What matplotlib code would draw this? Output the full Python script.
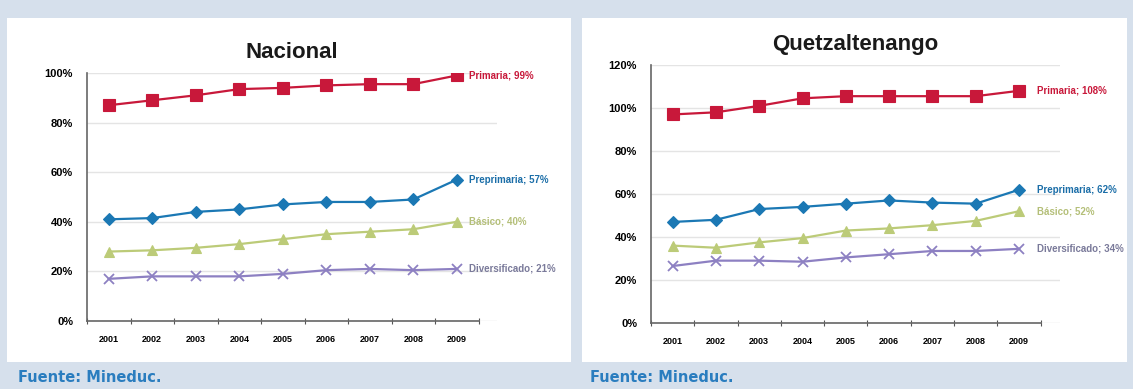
import matplotlib
matplotlib.use("Agg")
import matplotlib.pyplot as plt
from matplotlib.patches import Rectangle

years = ["2001", "2002", "2003", "2004", "2005", "2006", "2007", "2008", "2009"]

# Nacional
nac_primaria = [87, 89, 91, 93.5, 94, 95, 95.5, 95.5, 99]
nac_preprimaria = [41, 41.5, 44, 45, 47, 48, 48, 49, 57]
nac_basico = [28, 28.5, 29.5, 31, 33, 35, 36, 37, 40]
nac_diversificado = [17, 18, 18, 18, 19, 20.5, 21, 20.5, 21]
nac_labels = ["Primaria; 99%", "Preprimaria; 57%", "Básico; 40%", "Diversificado; 21%"]

# Quetzaltenango
que_primaria = [97, 98, 101, 104.5, 105.5, 105.5, 105.5, 105.5, 108]
que_preprimaria = [47, 48, 53, 54, 55.5, 57, 56, 55.5, 62]
que_basico = [36, 35, 37.5, 39.5, 43, 44, 45.5, 47.5, 52]
que_diversificado = [26.5, 29, 29, 28.5, 30.5, 32, 33.5, 33.5, 34.5]
que_labels = ["Primaria; 108%", "Preprimaria; 62%", "Básico; 52%", "Diversificado; 34%"]

plt.rcParams['font.family'] = ['Liberation Sans Narrow', 'Liberation Sans', 'DejaVu Sans']

line_colors = ["#c8183a", "#1b78b4", "#bccb78", "#8d80c2"]
text_colors = ["#c8183a", "#1b6ea8", "#b4bf78", "#7a7a9a"]
markers = ["s", "D", "^", "x"]
msizes = [8, 6, 6.5, 7]

fig = plt.figure(figsize=(11.33, 3.89), dpi=100)
fig.patch.set_facecolor("#d6e0ec")
W, H = 1133.0, 389.0

# white panels behind the charts
for x0, x1 in [(7, 571), (582, 1127)]:
    fig.patches.append(Rectangle((x0 / W, 1 - 362 / H), (x1 - x0) / W, (362 - 18) / H,
                                 transform=fig.transFigure, facecolor="white",
                                 edgecolor="none", zorder=-5))


def draw_panel(px, py, title, series, labels, ymax, lab_off):
    # px = (axis x, category width, gridline end), py = (y of 0, y of ymax) in pixels
    x0, cw, xg = px
    yb, yt = py
    ax = fig.add_axes([x0 / W, 1 - yb / H, (xg - x0) / W, (yb - yt) / H])
    ax.set_facecolor("white")
    x = list(range(len(years)))
    for i, vals in enumerate(series):
        ax.plot(x, vals, color=line_colors[i], lw=1.6, marker=markers[i],
                markersize=msizes[i], markeredgewidth=1.3 if markers[i] == "x" else 0.8,
                markeredgecolor=line_colors[i], zorder=3)
        ax.annotate(labels[i], (x[-1], vals[-1]), xytext=(lab_off, 0), textcoords="offset points",
                    va="center", ha="left", fontsize=7, color=text_colors[i],
                    fontweight="bold", annotation_clip=False)
    ax.set_xlim(-0.5, -0.5 + (xg - x0) / cw)
    ax.set_ylim(0, ymax)
    ax.set_yticks(range(0, ymax + 1, 20))
    ax.set_yticklabels([f"{v}%" for v in range(0, ymax + 1, 20)], fontsize=8, fontweight="bold")
    ax.set_xticks([i + 0.5 for i in range(-1, len(years))])
    ax.set_xticklabels([])
    ax.set_xticks(x, minor=True)
    ax.set_xticklabels(years, minor=True, fontsize=6.5, fontweight="bold")
    ax.tick_params(axis="x", which="major", direction="inout", length=5, color="#555555")
    ax.tick_params(axis="x", which="minor", length=0, pad=10)
    ax.tick_params(axis="y", length=0, pad=10)
    ax.yaxis.grid(True, color="#e4e4e4", lw=1)
    ax.set_axisbelow(True)
    for s in ["top", "right"]:
        ax.spines[s].set_visible(False)
    ax.spines["left"].set_color("#666666")
    ax.spines["bottom"].set_color("#666666")
    ax.spines["left"].set_linewidth(1.2)
    ax.spines["bottom"].set_linewidth(1.2)
    ax.spines["bottom"].set_bounds(-0.5, len(years) - 0.5)
    ax.set_title(title, fontsize=16, fontweight="bold", color="#1a1a1a", pad=11)
    return ax


draw_panel((87, 43.5, 497), (321, 73), "Nacional",
           [nac_primaria, nac_preprimaria, nac_basico, nac_diversificado], nac_labels,
           100, 9)
draw_panel((651, 43.3, 1060), (323, 65), "Quetzaltenango",
           [que_primaria, que_preprimaria, que_basico, que_diversificado], que_labels,
           120, 13)

for x0 in [18, 590]:
    fig.text(x0 / W, 1 - 377 / H, "Fuente: Mineduc.", fontsize=10.5, fontweight="bold",
             color="#2a7dbf", family=["DejaVu Sans"], va="center", ha="left")

fig.savefig("out.png", dpi=100, facecolor=fig.get_facecolor())
